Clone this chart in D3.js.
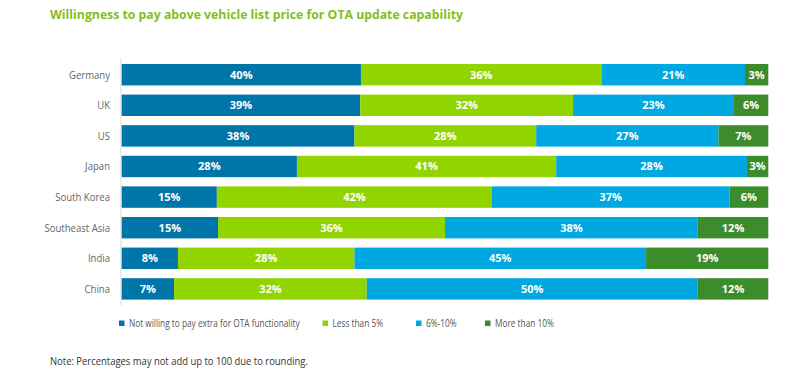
<!DOCTYPE html>
<html>
<head>
<meta charset="utf-8">
<script src="https://cdn.jsdelivr.net/npm/d3@7/dist/d3.min.js"></script>
<style>
  body { margin: 0; background: #fff; }
  svg { display: block; font-family: "Open Sans", "DejaVu Sans", sans-serif; }
</style>
</head>
<body>
<svg id="chart" width="800" height="371"></svg>
<script>
// ---- Data ----
const title = "Willingness to pay above vehicle list price for OTA update capability";
const note = "Note: Percentages may not add up to 100 due to rounding.";
const categories = ["Germany", "UK", "US", "Japan", "South Korea", "Southeast Asia", "India", "China"];
const seriesNames = ["Not willing to pay extra for OTA functionality", "Less than 5%", "6%-10%", "More than 10%"];

// Printed percentage labels
const notWilling = [40, 39, 38, 28, 15, 15, 8, 7];
const lessThan5 = [36, 32, 28, 41, 42, 36, 28, 32];
const sixToTen = [21, 23, 27, 28, 37, 38, 45, 50];
const moreThan10 = [3, 6, 7, 3, 6, 12, 19, 12];

// Segment lengths as drawn in the picture (share of bar, %)
const notWillingDrawn = [37.0, 36.9, 36.0, 27.1, 14.7, 14.9, 8.7, 8.1];
const lessThan5Drawn = [37.2, 32.9, 28.1, 40.1, 42.5, 35.1, 27.3, 29.8];
const sixToTenDrawn = [22.2, 24.9, 28.2, 29.5, 36.7, 39.1, 45.1, 51.2];
const moreThan10Drawn = [3.6, 5.3, 7.7, 3.3, 6.0, 10.9, 18.9, 10.9];

const colors = ["#0076A8", "#92D400", "#00A8E1", "#3C8C2B"];

// ---- Build ----
const labelSets = [notWilling, lessThan5, sixToTen, moreThan10];
const drawnSets = [notWillingDrawn, lessThan5Drawn, sixToTenDrawn, moreThan10Drawn];
const keys = ["s0", "s1", "s2", "s3"];
const rows = categories.map((c, i) => {
  const r = { category: c };
  const tot = d3.sum(drawnSets, s => s[i]);
  keys.forEach((k, j) => { r[k] = drawnSets[j][i] / tot * 100; r["l" + j] = labelSets[j][i]; });
  return r;
});

const svg = d3.select("#chart");

const x = d3.scaleLinear().domain([0, 100]).range([121.7, 768.3]);
const y = d3.scaleBand().domain(categories).range([59.4, 304.2]).paddingInner(0.3).paddingOuter(0.15);

// Title
svg.append("text")
  .attr("transform", "translate(50,19) scale(0.93,1)")
  .attr("fill", "#86BC25")
  .attr("font-weight", 700)
  .attr("font-size", 13.2)
  .text(title);

// Axis line
svg.append("line")
  .attr("x1", 121).attr("x2", 121)
  .attr("y1", y.range()[0] - 1).attr("y2", y.range()[1] + 1)
  .attr("stroke", "#d9d9d9").attr("stroke-width", 1);

// Category labels
svg.append("g").selectAll("text")
  .data(categories).join("text")
  .attr("transform", d => `translate(110,${y(d) + y.bandwidth() / 2}) scale(0.87,1)`)
  .attr("dy", "0.35em")
  .attr("text-anchor", "end")
  .attr("font-size", 11)
  .attr("fill", "#666")
  .text(d => d);

const stack = d3.stack().keys(keys);
const stacked = stack(rows);

const g = svg.append("g");
stacked.forEach((layer, j) => {
  const lg = g.append("g");
  lg.selectAll("rect").data(layer).join("rect")
    .attr("x", d => x(d[0]))
    .attr("y", d => y(d.data.category))
    .attr("width", d => x(d[1]) - x(d[0]))
    .attr("height", y.bandwidth())
    .attr("fill", colors[j]);
  lg.selectAll("text").data(layer).join("text")
    .attr("x", d => (x(d[0]) + x(d[1])) / 2)
    .attr("y", d => y(d.data.category) + y.bandwidth() / 2)
    .attr("dy", "0.35em")
    .attr("text-anchor", "middle")
    .attr("font-size", 11)
    .attr("font-weight", 700)
    .attr("fill", "#fff")
    .text(d => d.data["l" + j] + "%");
});

// Legend
const legendX = [119, 322.5, 416, 485];
const legend = svg.append("g");
seriesNames.forEach((n, j) => {
  legend.append("rect")
    .attr("x", legendX[j]).attr("y", 320.5)
    .attr("width", 5.5).attr("height", 5.5)
    .attr("fill", colors[j]);
  legend.append("text")
    .attr("transform", `translate(${legendX[j] + 10},323) scale(0.83,1)`)
    .attr("dy", "0.35em")
    .attr("font-size", 10)
    .attr("fill", "#555")
    .text(n);
});

// Note
svg.append("text")
  .attr("transform", "translate(50,365) scale(0.9,1)")
  .attr("font-size", 10.5)
  .attr("fill", "#333")
  .text(note);
</script>
</body>
</html>
